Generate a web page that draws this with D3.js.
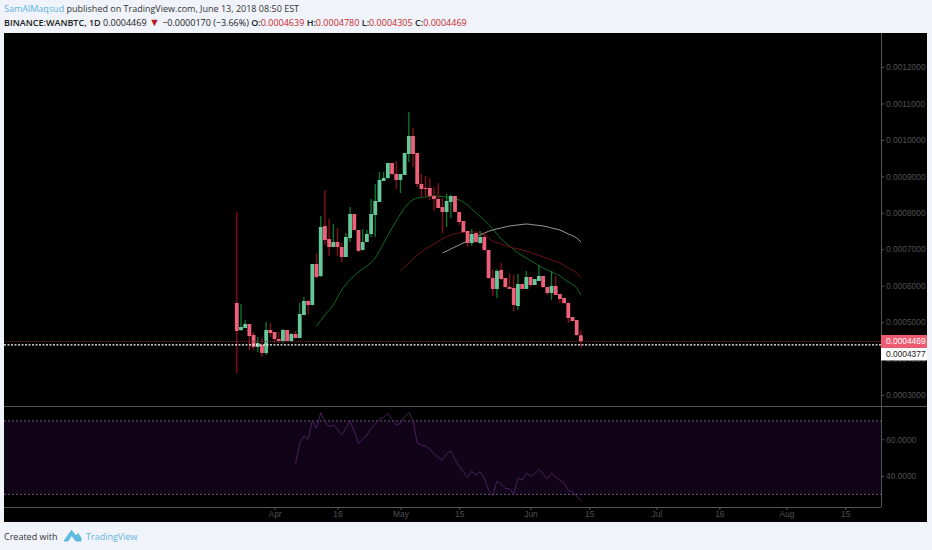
<!DOCTYPE html>
<html>
<head>
<meta charset="utf-8">
<script src="https://cdnjs.cloudflare.com/ajax/libs/d3/7.8.5/d3.min.js"></script>
<style>
  html, body { margin: 0; padding: 0; background: #f0f3fa; }
  svg { display: block; }
  text { font-family: "Open Sans", sans-serif; }
  .axis path, .axis line { stroke: #555; }
  .axis text { fill: #505050; font-size: 8.4px; font-family: "Liberation Sans", sans-serif; }
</style>
</head>
<body>
<svg id="chart" width="932" height="550"></svg>
<script>
// candles, prices in units of 0.0000001 btc
const firstDay = '2018-03-23';
const opens = [5525,4784,4838,4948,4647,4317,4372,4153,4784,4729,4537,4482,4784,4482,4674,4564,5195,5580,5470,6595,6265,7638,7281,7061,7198,7061,6787,7308,7967,7528,6979,7198,7418,7939,8296,8872,8955,9366,9064,8900,9037,9613,10107,9641,8790,8680,8680,8461,8378,8159,8022,8296,8461,8022,7775,7501,7171,7446,7171,7336,6979,6210,5909,6430,6210,5963,5936,5442,6046,5909,6238,6018,6128,6265,5963,5799,5991,5771,5662,5525,5140,5058,4639];
const highs = [8022,5497,5058,4948,4729,4592,4564,5003,4976,4729,4729,4811,4784,4701,4756,5525,5689,5607,6595,6897,7912,8625,7830,7692,7583,7171,7446,8159,7967,7528,7555,7528,8378,8790,9119,9119,9366,9366,9421,9064,9641,10766,10327,9641,9064,9009,8955,8708,8818,8406,8516,8488,8461,8022,7775,7501,7555,7446,7501,7473,6979,6430,6458,6622,6210,6348,6293,6320,6046,6403,6238,6183,6567,6265,5963,6403,6265,5771,5662,5525,5140,5058,4780];
const lows = [3604,4756,4838,4235,4235,4180,4043,4098,4592,4427,4427,4427,4454,4454,4564,4564,5195,5223,5470,6210,6238,7116,6814,7061,6814,6650,6787,7198,7528,6925,6979,7198,7336,7336,8296,8872,8927,9037,8653,8543,9037,9393,9257,8708,8433,8433,8351,8049,8131,7446,7610,7857,8022,7665,7446,7061,7089,7171,7144,6952,6183,5717,5662,6156,5936,5909,5305,5333,5909,5909,5963,6018,6128,5936,5744,5607,5744,5525,5497,4976,5030,4619,4305];
const closes = [4756,4866,4948,4619,4317,4427,4153,4784,4701,4537,4482,4784,4482,4674,4564,5223,5580,5470,6595,6238,7610,7253,7061,7198,7061,6787,7336,7967,7528,6952,7198,7418,7967,8324,8900,8955,9366,9064,8900,9064,9641,10107,9613,8790,8653,8653,8461,8378,8131,8022,8324,8461,8022,7747,7473,7171,7418,7198,7336,6979,6210,5909,6403,6183,5963,5909,5470,6046,5909,6238,6018,6183,6265,5963,5799,5991,5744,5634,5525,5113,5030,4647,4469];

// moving averages, sampled at candle numbers
const greenDays = [19,21,23,25,27,29,31,33,35,37,39,41,43,45,47,49,51,53,55,57,59,61,63,65,67,69,71,73,75,77,79,81,82];
const greenVals = [4894,5195,5470,5881,6156,6375,6540,6760,7171,7583,7967,8269,8406,8433,8461,8447,8406,8351,8214,7994,7802,7555,7281,7089,6897,6760,6622,6485,6375,6265,6101,5936,5744];
const redDays = [39,41,43,45,47,49,51,53,55,57,59,61,63,65,67,69,71,73,75,77,79,81,82];
const redVals = [6403,6622,6842,7006,7144,7281,7391,7446,7473,7473,7391,7226,7144,7061,7006,6952,6869,6787,6705,6622,6485,6348,6210];
const whiteDays = [49,51,53,55,57,59,61,63,65,67,69,71,73,75,77,79,81,82];
const whiteVals = [6897,7006,7116,7226,7336,7446,7528,7583,7638,7665,7692,7665,7638,7583,7528,7418,7308,7198];

// rsi starts at candle 14
const rsiFirst = 14;
const rsiVals = [46.9,57.8,61.8,60,70.1,66,74.5,69.6,66.9,67.8,65.4,62.3,66,70.1,64.1,57.8,60,62.3,66,68.3,71,72,74.1,70.9,67.8,68.7,72.3,74.7,70.1,57.8,56.9,56.3,54.5,52.3,50.1,48.7,52,53.8,49.1,45.4,42.3,39.1,42.7,40.5,42.3,38.7,32.3,29.3,37.2,35.6,33.2,33.2,30.5,38.7,37.8,41.4,40,41.4,43.6,41.1,38.3,41.8,39.2,37.8,36,32,31.4,29.1,26.5];

const priceTicks = [3000,4000,5000,6000,7000,8000,9000,10000,11000,12000];
const rsiTicks = [40,60];
const dateTicks = ['2018-04-01','2018-04-16','2018-05-01','2018-05-15','2018-06-01','2018-06-15','2018-07-01','2018-07-16','2018-08-01','2018-08-15'];
const dateLabels = ['Apr','16','May','15','Jun','15','Jul','16','Aug','15'];

const last = 4469, countdownPrice = 4377;

const svg = d3.select('#chart');
const left = 4, right = 881, panelRight = 927, panelTop = 33, priceBottom = 406, rsiBottom = 507, panelBottom = 522;

const day = i => d3.utcDay.offset(new Date(firstDay), i);
const x = d3.scaleUtc().domain([new Date('2018-01-27'), new Date('2018-08-24')]).range([6, 883]);
const y = d3.scaleLinear().domain([3000, 12000]).range([395, 67]);
const yRsi = d3.scaleLinear().domain([40, 60]).range([476, 439.3]);

// header
const head = svg.append('g').attr('font-size', 9);
const line1 = head.append('text').attr('x', 4).attr('y', 12).attr('fill', '#333');
line1.append('tspan').attr('fill', '#5fb5dc').text('SamAlMaqsud');
line1.append('tspan').text(' published on TradingView.com, June 13, 2018 08:50 EST');
const line2 = head.append('text').attr('x', 4).attr('y', 26).attr('fill', '#222');
line2.append('tspan').attr('font-weight', 600).text('BINANCE:WANBTC, 1D');
line2.append('tspan').text(' 0.0004469 ');
line2.append('tspan').attr('fill', '#b71c1c').attr('font-size', 11).text('▼');
line2.append('tspan').text(' −0.0000170 (−3.66%) ');
[['O:', opens], ['H:', highs], ['L:', lows], ['C:', closes]].forEach(([k, arr]) => {
    line2.append('tspan').attr('font-weight', 600).text(k);
    line2.append('tspan').attr('fill', '#c62828').text((arr[arr.length - 1] / 1e7).toFixed(7) + ' ');
});

// panel
svg.append('rect').attr('x', left).attr('y', panelTop).attr('width', panelRight - left).attr('height', panelBottom - panelTop).attr('fill', '#000');

svg.append('defs').append('clipPath').attr('id', 'plot').append('rect')
    .attr('x', left).attr('y', panelTop).attr('width', right - left).attr('height', panelBottom - panelTop);

// axes
svg.append('g').attr('class', 'axis').attr('transform', `translate(${right},0)`)
    .call(d3.axisRight(y).tickValues(priceTicks).tickSize(3).tickPadding(2).tickFormat(d => (d / 1e7).toFixed(7)))
    .call(g => g.select('.domain').remove());
svg.append('g').attr('class', 'axis').attr('transform', `translate(${right},0)`)
    .call(d3.axisRight(yRsi).tickValues(rsiTicks).tickSize(3).tickPadding(2).tickFormat(d => d.toFixed(4)))
    .call(g => g.select('.domain').remove());
svg.append('g').attr('class', 'axis').attr('transform', `translate(0,${rsiBottom})`)
    .call(d3.axisBottom(x).tickValues(dateTicks.map(d => new Date(d))).tickSize(3).tickPadding(1)
        .tickFormat((d, i) => dateLabels[i]))
    .call(g => g.select('.domain').remove());

// panes border
const border = svg.append('g').attr('stroke', '#555').attr('fill', 'none');
border.append('line').attr('x1', right + .5).attr('x2', right + .5).attr('y1', panelTop).attr('y2', rsiBottom);
border.append('line').attr('x1', left).attr('x2', panelRight).attr('y1', priceBottom + .5).attr('y2', priceBottom + .5);
border.append('line').attr('x1', left).attr('x2', right).attr('y1', rsiBottom + .5).attr('y2', rsiBottom + .5);

const plot = svg.append('g').attr('clip-path', 'url(#plot)');

// moving averages
const maLine = d3.line().x(d => x(day(d[0]))).y(d => y(d[1])).curve(d3.curveMonotoneX);
[[greenDays, greenVals, '#0f6b22'], [redDays, redVals, '#6d1219'], [whiteDays, whiteVals, '#9a9a9a']].forEach(([days, vals, col]) => {
    plot.append('path').attr('d', maLine(days.map((d, i) => [d, vals[i]])))
        .attr('fill', 'none').attr('stroke', col).attr('stroke-width', 1);
});

// candles
const candles = plot.append('g').selectAll('g').data(opens.map((o, i) => ({ i, o, h: highs[i], l: lows[i], c: closes[i] })))
    .enter().append('g');
candles.append('line')
    .attr('x1', d => x(day(d.i))).attr('x2', d => x(day(d.i)))
    .attr('y1', d => y(d.h)).attr('y2', d => y(d.l))
    .attr('stroke', d => d.c >= d.o ? '#0d7a2c' : '#8a0f1c').attr('stroke-width', 1.3);
candles.append('rect')
    .attr('x', d => x(day(d.i)) - 1.9).attr('width', 3.8)
    .attr('y', d => y(Math.max(d.o, d.c)))
    .attr('height', d => Math.max(1, Math.abs(y(d.o) - y(d.c))))
    .attr('fill', d => d.c >= d.o ? '#66c79a' : '#ee6078');

// last price lines
plot.append('line').attr('x1', left).attr('x2', right).attr('y1', y(last)).attr('y2', y(last))
    .attr('stroke', '#7a2230').attr('stroke-width', 1).attr('stroke-dasharray', '1 1');
plot.append('line').attr('x1', left).attr('x2', right).attr('y1', y(countdownPrice)).attr('y2', y(countdownPrice))
    .attr('stroke', '#fff').attr('stroke-width', 1.3).attr('stroke-dasharray', '2 1.5');

// price tags
svg.append('rect').attr('x', right).attr('y', y(last) - 6.5).attr('width', 46).attr('height', 13).attr('fill', '#ee5a70');
svg.append('text').attr('x', right + 5).attr('y', y(last) + 3).attr('fill', '#fff').attr('font-size', 8.4)
    .style('font-family', '"Liberation Sans", sans-serif').text((last / 1e7).toFixed(7));
svg.append('rect').attr('x', right).attr('y', y(last) + 6.5).attr('width', 46).attr('height', 12.5).attr('fill', '#fff');
svg.append('text').attr('x', right + 5).attr('y', y(last) + 15.7).attr('fill', '#222').attr('font-size', 8.4)
    .style('font-family', '"Liberation Sans", sans-serif').text((countdownPrice / 1e7).toFixed(7));

// rsi
plot.append('rect').attr('x', left).attr('width', right - left).attr('y', yRsi(70)).attr('height', yRsi(30) - yRsi(70)).attr('fill', '#110418');
[70, 30].forEach(v => {
    plot.append('line').attr('x1', left).attr('x2', right).attr('y1', yRsi(v)).attr('y2', yRsi(v))
        .attr('stroke', '#6f5a80').attr('stroke-dasharray', '2 2');
});
plot.append('path')
    .attr('d', d3.line().x((d, i) => x(day(i + rsiFirst))).y(d => yRsi(d))(rsiVals))
    .attr('fill', 'none').attr('stroke', '#4f2263').attr('stroke-width', .9);

// footer
svg.append('text').attr('x', 4).attr('y', 540).attr('font-size', 9).attr('fill', '#333').text('Created with');
svg.append('path').attr('d', 'M64 541 L71.5 530.5 L76 536 L78 533.5 L81 538 L81 541 L76 541 L71.5 535.5 L68 541 Z').attr('fill', '#5cbbdc').attr('stroke', '#5cbbdc').attr('stroke-width', 1).attr('stroke-linejoin', 'round');
svg.append('text').attr('x', 86).attr('y', 540).attr('font-size', 9).attr('fill', '#62b5da').text('TradingView');
</script>
</body>
</html>
